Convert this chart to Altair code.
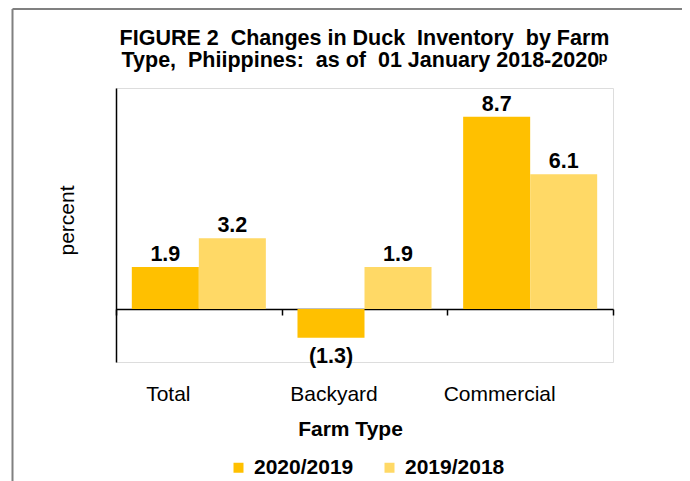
import altair as alt
import pandas as pd

categories = ["Total", "Backyard", "Commercial"]
series_names = ["2020/2019", "2019/2018"]
change_2020_2019 = [1.9, -1.3, 8.7]
change_2019_2018 = [3.2, 1.9, 6.1]
colors = ["#FFC000", "#FFD966"]
NB = "\u00a0"
title_lines = [f"FIGURE 2 {NB}Changes in Duck {NB}Inventory {NB}by Farm",
               f"Type, {NB}Phiippines: {NB}as of {NB}01 January 2018-2020\u1d56"]

rows = []
for i, c in enumerate(categories):
    rows.append({"farm": c, "series": series_names[0], "value": change_2020_2019[i]})
    rows.append({"farm": c, "series": series_names[1], "value": change_2019_2018[i]})
df = pd.DataFrame(rows)

FONT = "Liberation Sans"

x = alt.X(
    "farm:N", sort=categories,
    scale=alt.Scale(paddingInner=0, paddingOuter=0),
    axis=alt.Axis(
        title="Farm Type", orient="bottom", offset=-53,
        domainColor="black", domainWidth=1.5,
        ticks=True, tickBand="extent", tickSize=6, tickColor="black", tickWidth=1.5,
        labelFont=FONT, labelFontSize=21, labelColor="black", labelAngle=0,
        labelPadding=85, labelBaseline="alphabetic", labelOffset=-31,
        titleFont=FONT, titleFontSize=21, titleFontWeight="bold", titleColor="black",
        titleX=234, titleY=126, titleBaseline="alphabetic", titleAlign="center",
    ),
)
y = alt.Y(
    "value:Q",
    scale=alt.Scale(domain=[-2.4, 10], nice=False, zero=False),
    axis=alt.Axis(
        title="percent", labels=False, ticks=False, grid=False,
        domainColor="black", domainWidth=1.5,
        titleFont=FONT, titleFontSize=21, titleFontWeight="normal", titleColor="black",
        titleX=-49, titleY=132, titleAngle=270, titleAlign="center", titleBaseline="middle",
    ),
)
xo = alt.XOffset("series:N", sort=series_names,
                 scale=alt.Scale(paddingInner=0, paddingOuter=0.236))
color = alt.Color(
    "series:N", sort=series_names,
    scale=alt.Scale(domain=series_names, range=colors),
    legend=alt.Legend(
        title=None, orient="none", legendX=112, legendY=369, direction="horizontal",
        symbolType="square", symbolSize=100, symbolStrokeWidth=0, symbolOpacity=1,
        labelFont=FONT, labelFontSize=21, labelFontWeight="bold", labelColor="black",
        columnPadding=25, labelOffset=5, padding=0,
    ),
)

base = alt.Chart(df).transform_calculate(
    label="datum.value < 0 ? '(' + format(abs(datum.value), '.1f') + ')' : format(datum.value, '.1f')"
)

bars = base.mark_bar().encode(x=x, xOffset=xo, y=y, color=color)

pos = base.transform_filter("datum.value >= 0").mark_text(
    baseline="alphabetic", dy=-6, font=FONT, fontSize=21.5, fontWeight="bold", color="black"
).encode(x=x, xOffset=xo, y=y, text="label:N")

neg = base.transform_filter("datum.value < 0").mark_text(
    baseline="alphabetic", dy=25, font=FONT, fontSize=21.5, fontWeight="bold", color="black"
).encode(x=x, xOffset=xo, y=y, text="label:N")

frame_df = pd.DataFrame({"k": [0]})
left = alt.Chart(frame_df).mark_rule(color="#808080", strokeWidth=2).encode(
    x=alt.value(-103.5), y=alt.value(-79), y2=alt.value(400))
right = alt.Chart(frame_df).mark_rule(color="#808080", strokeWidth=2).encode(
    x=alt.value(569.5), y=alt.value(-79), y2=alt.value(400))
top = alt.Chart(frame_df).mark_rule(color="#808080", strokeWidth=2).encode(
    x=alt.value(-103.5), x2=alt.value(569.5), y=alt.value(-79))

chart = alt.layer(bars, pos, neg, left, right, top).properties(
    width=497, height=274,
    padding={"left": 108, "top": 80, "right": 69, "bottom": 119},
    autosize=alt.AutoSizeParams(type="none"),
    title=alt.TitleParams(
        text=title_lines, font=FONT, fontSize=21.5, fontWeight="bold", color="black",
        anchor="middle", frame="group", offset=-80, lineHeight=22, baseline="alphabetic",
    ),
).configure_view(stroke=None).configure(background="white")

chart.save("out.html", embed_options={"renderer": "svg", "actions": False})
